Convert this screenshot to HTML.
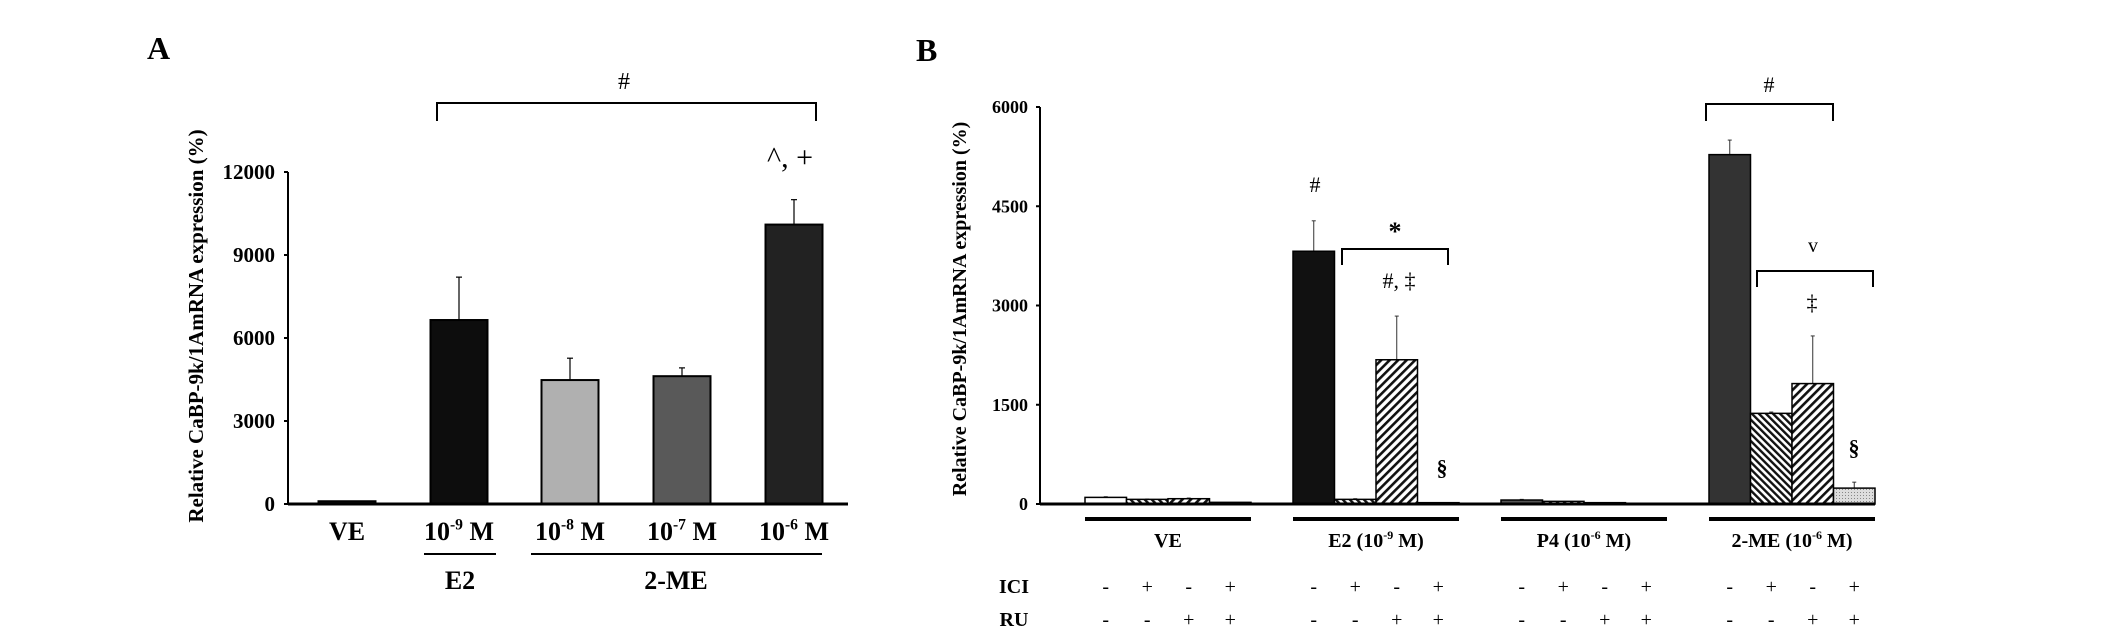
<!DOCTYPE html>
<html><head><meta charset="utf-8"><style>
html,body{margin:0;padding:0;background:#fff;}
svg{display:block;font-family:"Liberation Serif",serif;font-weight:bold;}
</style></head><body>
<svg id="fig" width="2126" height="635" viewBox="0 0 2126 635" xmlns="http://www.w3.org/2000/svg">
<defs>
<pattern id="hatchBack" patternUnits="userSpaceOnUse" width="5" height="5" patternTransform="rotate(-45)"><rect width="5" height="5" fill="#fff"/><rect width="2.4" height="5" fill="#111"/></pattern>
<pattern id="hatchFwd" patternUnits="userSpaceOnUse" width="6" height="6" patternTransform="rotate(45)"><rect width="6" height="6" fill="#fff"/><rect width="2.6" height="6" fill="#111"/></pattern>
<pattern id="dots" patternUnits="userSpaceOnUse" width="3" height="3"><rect width="3" height="3" fill="#ddd"/><rect width="1" height="1" fill="#888"/></pattern>
</defs>
<g id="panelA"></g>
<g id="panelB"></g>
</svg>
<script>
// Panel A data
const catsA = ["VE", "10-9 M", "10-8 M", "10-7 M", "10-6 M"];
const valsA = [100, 6650, 4480, 4620, 10100];
const errsA = [0, 8200, 5270, 4920, 11000];
const ticksA = [0, 3000, 6000, 9000, 12000];
// Panel B data
const groupsB = ["VE", "E2 (10-9 M)", "P4 (10-6 M)", "2-ME (10-6 M)"];
const valsB = [[100, 70, 80, 25], [3820, 70, 2180, 20], [60, 40, 20, 5], [5280, 1370, 1820, 240]];
const errsB = [[110, 75, 90, 0], [4280, 80, 2840, 0], [70, 0, 0, 0], [5500, 1390, 2540, 330]];
const ticksB = [0, 1500, 3000, 4500, 6000];
const iciB = ["-", "+", "-", "+"];
const ruB = ["-", "-", "+", "+"];

const NS = "http://www.w3.org/2000/svg";
function mk(parent, tag, attrs, txt) {
  const e = document.createElementNS(NS, tag);
  for (const k in attrs) e.setAttribute(k, attrs[k]);
  if (txt !== undefined) e.textContent = txt;
  parent.appendChild(e);
  return e;
}
function txtSup(parent, x, y, size, base, sup, rest, name) {
  const t = mk(parent, "text", {x: x, y: y, "font-size": size, "text-anchor": "middle"});
  
  
  mk(t, "tspan", {}, base);
  mk(t, "tspan", {"font-size": size * 0.6, dy: -size * 0.4}, sup);
  mk(t, "tspan", {dy: size * 0.4}, rest);
  return t;
}

// ---------- Panel A ----------
(function () {
  const g = document.getElementById("panelA");
  const y0 = 504, yTop = 172, maxV = 12000;
  const yA = v => y0 - (v / maxV) * (y0 - yTop);
  const xLeft = 288, xRight = 848;
  const centers = [347, 459, 570, 682, 794];
  const bw = 57;
  const fills = ["#111", "#0d0d0d", "#b0b0b0", "#595959", "#222"];
  let e = mk(g, "text", {x: 147, y: 59, "font-size": 32}, "A");
   
  e = mk(g, "text", {transform: "translate(203,326) rotate(-90)", "text-anchor": "middle", "font-size": 21}, "Relative CaBP-9k/1AmRNA expression (%)");
   
  e = mk(g, "line", {x1: xLeft, y1: yTop, x2: xLeft, y2: y0, stroke: "#000", "stroke-width": 2});
   
  ticksA.forEach(t => {
    const tl = mk(g, "line", {x1: xLeft - 4, y1: yA(t), x2: xLeft, y2: yA(t), stroke: "#000", "stroke-width": 2});
     
    const tt = mk(g, "text", {x: xLeft - 13, y: yA(t) + 7, "text-anchor": "end", "font-size": 21}, String(t));
     
  });
  valsA.forEach((v, i) => {
    const cx = centers[i];
    if (errsA[i] > v) {
      const el = mk(g, "line", {x1: cx, y1: yA(errsA[i]), x2: cx, y2: yA(v), stroke: "#000", "stroke-width": 1.2});
       
      const ec = mk(g, "line", {x1: cx - 3, y1: yA(errsA[i]), x2: cx + 3, y2: yA(errsA[i]), stroke: "#000", "stroke-width": 1.2});
       
    }
    const r = mk(g, "rect", {x: cx - bw / 2, y: yA(v), width: bw, height: y0 - yA(v), fill: fills[i], stroke: "#000", "stroke-width": 2});
     
  });
  e = mk(g, "line", {x1: xLeft, y1: y0, x2: xRight, y2: y0, stroke: "#000", "stroke-width": 3});
   
  // x labels
  e = mk(g, "text", {x: centers[0], y: 540, "text-anchor": "middle", "font-size": 26}, "VE");
   
  const sups = ["-9", "-8", "-7", "-6"];
  for (let i = 1; i < 5; i++) txtSup(g, centers[i], 540, 26, "10", sups[i - 1], " M", 'x-label-a-' + i);
  e = mk(g, "line", {x1: 424, y1: 554, x2: 496, y2: 554, stroke: "#000", "stroke-width": 2});
   
  e = mk(g, "line", {x1: 531, y1: 554, x2: 822, y2: 554, stroke: "#000", "stroke-width": 2});
   
  e = mk(g, "text", {x: 460, y: 589, "text-anchor": "middle", "font-size": 26}, "E2");
   
  e = mk(g, "text", {x: 676, y: 589, "text-anchor": "middle", "font-size": 26}, "2-ME");
   
  // bracket
  e = mk(g, "path", {d: "M437 121 V103 H816 V121", fill: "none", stroke: "#000", "stroke-width": 2});
   
  e = mk(g, "text", {x: 624, y: 89, "text-anchor": "middle", "font-size": 24, "font-weight": "normal"}, "#");
   
  e = mk(g, "text", {x: 790, y: 167, "text-anchor": "middle", "font-size": 30, "font-weight": "normal"}, "^, +");
   
})();

// ---------- Panel B ----------
(function () {
  const g = document.getElementById("panelB");
  const y0 = 504, yTop = 107, maxV = 6000;
  const yB = v => y0 - (v / maxV) * (y0 - yTop);
  const xLeft = 1040, xRight = 1875;
  const groupStart = [1085, 1293, 1501, 1709];
  const bw = 41.5;
  const firstFill = ["#fff", "#111", "#555", "#333"];
  const barFill = ["", "url(#hatchBack)", "url(#hatchFwd)", "url(#dots)"];
  let e = mk(g, "text", {x: 916, y: 61, "font-size": 32}, "B");
   
  e = mk(g, "text", {transform: "translate(966,309) rotate(-90)", "text-anchor": "middle", "font-size": 20}, "Relative CaBP-9k/1AmRNA expression (%)");
   
  e = mk(g, "line", {x1: xLeft, y1: yTop, x2: xLeft, y2: y0, stroke: "#000", "stroke-width": 2});
   
  ticksB.forEach(t => {
    const tl = mk(g, "line", {x1: xLeft - 4, y1: yB(t), x2: xLeft, y2: yB(t), stroke: "#000", "stroke-width": 2});
     
    const tt = mk(g, "text", {x: xLeft - 12, y: yB(t) + 6, "text-anchor": "end", "font-size": 18}, String(t));
     
  });
  valsB.forEach((grp, gi) => {
    grp.forEach((v, bi) => {
      const x = groupStart[gi] + bi * bw;
      const cx = x + bw / 2;
      const err = errsB[gi][bi];
      if (err > v) {
        const el = mk(g, "line", {x1: cx, y1: yB(err), x2: cx, y2: yB(v), stroke: "#333", "stroke-width": 1});
         
        const ec = mk(g, "line", {x1: cx - 2, y1: yB(err), x2: cx + 2, y2: yB(err), stroke: "#333", "stroke-width": 1});
         
      }
      const r = mk(g, "rect", {x: x, y: yB(v), width: bw, height: y0 - yB(v), fill: bi === 0 ? firstFill[gi] : barFill[bi], stroke: "#000", "stroke-width": 1.5});
       
      const s1 = mk(g, "text", {x: cx, y: 593, "text-anchor": "middle", "font-size": 20, "font-weight": "normal"}, iciB[bi]);
       
      const s2 = mk(g, "text", {x: cx, y: 626, "text-anchor": "middle", "font-size": 20, "font-weight": "normal"}, ruB[bi]);
       
    });
    const ul = mk(g, "line", {x1: groupStart[gi], y1: 519, x2: groupStart[gi] + 4 * bw, y2: 519, stroke: "#000", "stroke-width": 4});
     
  });
  e = mk(g, "line", {x1: xLeft, y1: y0, x2: xRight, y2: y0, stroke: "#000", "stroke-width": 3});
   
  const gc = groupStart.map(s => s + 2 * bw);
  e = mk(g, "text", {x: gc[0], y: 547, "text-anchor": "middle", "font-size": 20}, groupsB[0]);
   
  txtSup(g, gc[1], 547, 20, "E2 (10", "-9", " M)", 'group-label-e2');
  txtSup(g, gc[2], 547, 20, "P4 (10", "-6", " M)", 'group-label-p4');
  txtSup(g, gc[3], 547, 20, "2-ME (10", "-6", " M)", 'group-label-2me');
  e = mk(g, "text", {x: 1014, y: 593, "text-anchor": "middle", "font-size": 20}, "ICI");
   
  e = mk(g, "text", {x: 1014, y: 626, "text-anchor": "middle", "font-size": 20}, "RU");
   
  // annotations
  const ann = [
    [1315, 192, "#", 22, "normal"], [1395, 240, "*", 26, "bold"], [1399, 288, "#, ‡", 22, "normal"],
    [1442, 475, "§", 22, "bold"], [1769, 92, "#", 22, "normal"], [1813, 252, "v", 20, "normal"],
    [1812, 310, "‡", 22, "normal"], [1854, 455, "§", 22, "bold"]
  ];
  ann.forEach(a => {
    const t = mk(g, "text", {x: a[0], y: a[1], "text-anchor": "middle", "font-size": a[3], "font-weight": a[4]}, a[2]);
     
  });
  const br = ["M1342 265 V249 H1448 V265", "M1706 121 V104 H1833 V121", "M1757 287 V271 H1873 V287"];
  br.forEach(d => {
    const p = mk(g, "path", {d: d, fill: "none", stroke: "#000", "stroke-width": 2});
     
  });
})();
</script>
</body></html>
